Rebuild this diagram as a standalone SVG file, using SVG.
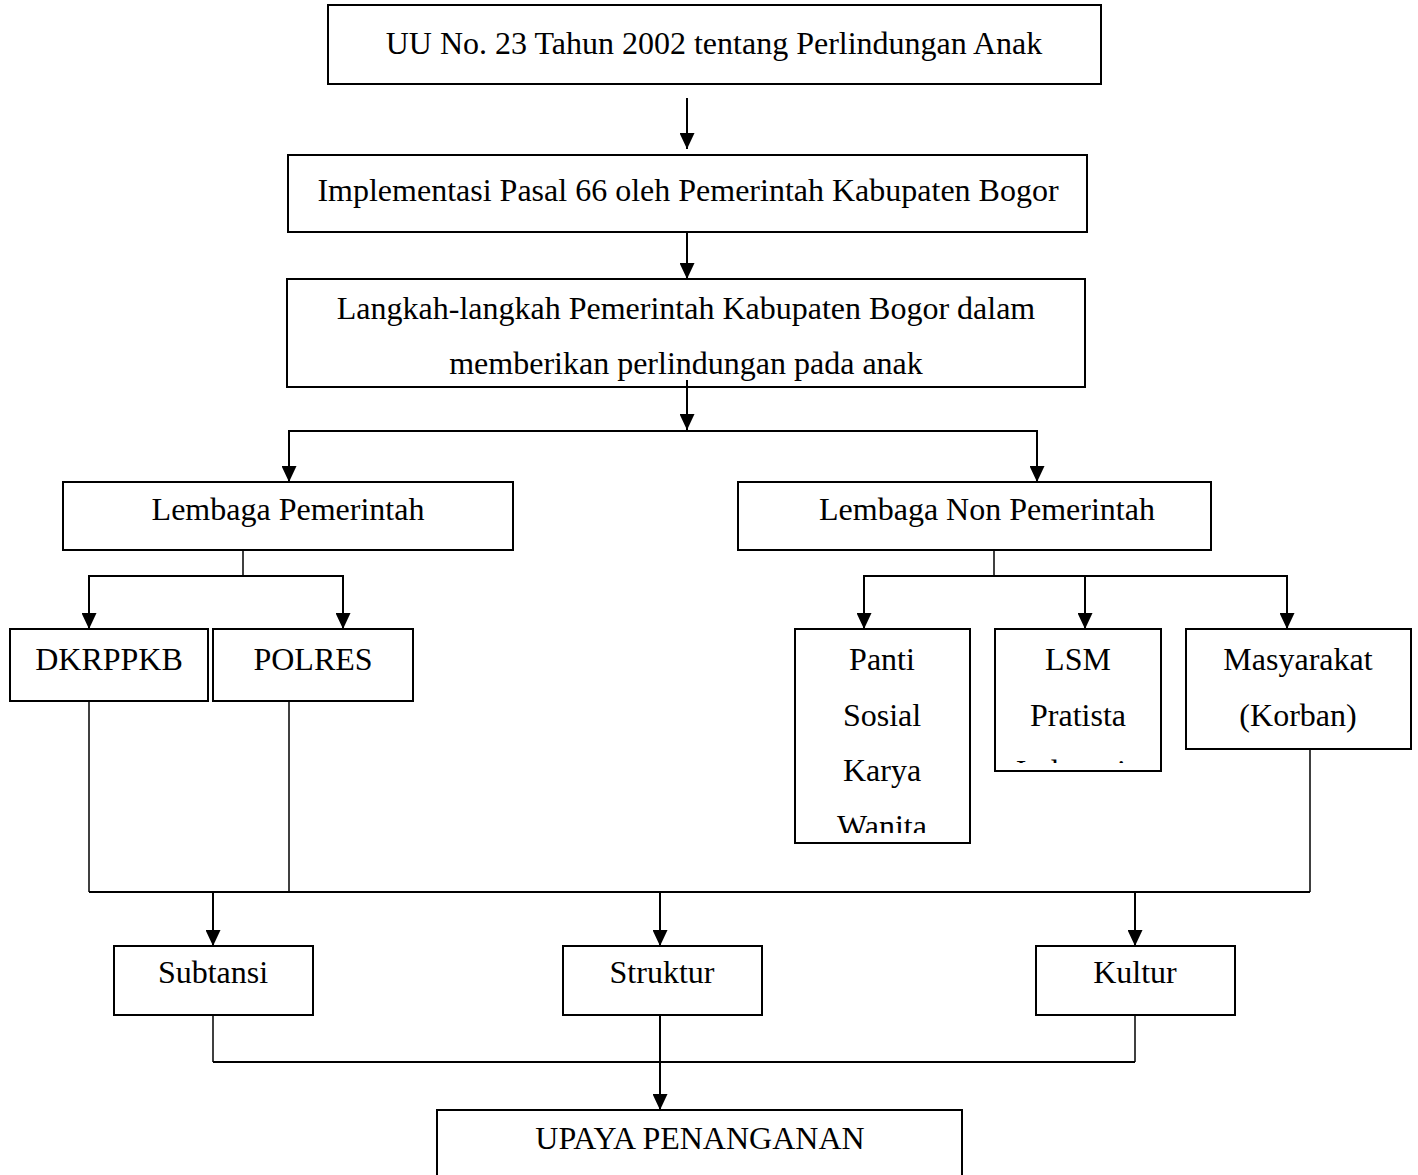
<svg xmlns="http://www.w3.org/2000/svg" width="1418" height="1175" viewBox="0 0 1418 1175">
  <style>
    .box { fill: #ffffff; stroke: #000000; stroke-width: 2; }
    .lbl { font-family: "Liberation Serif", "Times New Roman", serif; font-size: 32px; fill: #000000; text-anchor: middle; }
    .wire { fill: none; stroke: #000000; stroke-width: 2; }
    .thin { fill: none; stroke: #000000; stroke-width: 1.5; }
  </style>
  <defs>
    <!-- filled arrowhead, tip at the end of the line -->
    <marker id="arrow" markerUnits="userSpaceOnUse" markerWidth="16" markerHeight="15" refX="16" refY="7.5" viewBox="0 0 16 15" orient="auto">
      <path d="M0,0 L16,7.5 L0,15 z" fill="#000000"/>
    </marker>
    <clipPath id="clip-panti"><rect x="795" y="629" width="175" height="204"/></clipPath>
    <clipPath id="clip-lsm"><rect x="995" y="629" width="166" height="134"/></clipPath>
  </defs>

  <rect width="1418" height="1175" fill="#ffffff"/>

  <!-- connectors -->
  <g id="connectors">
    <line class="wire" x1="687" y1="98" x2="687" y2="149" marker-end="url(#arrow)"/>
    <line class="wire" x1="687" y1="232" x2="687" y2="279" marker-end="url(#arrow)"/>
    <line class="wire" x1="687" y1="380" x2="687" y2="430" marker-end="url(#arrow)"/>
    <polyline class="wire" points="289,431 1037,431"/>
    <line class="wire" x1="289" y1="430" x2="289" y2="482" marker-end="url(#arrow)"/>
    <line class="wire" x1="1037" y1="430" x2="1037" y2="482" marker-end="url(#arrow)"/>

    <line class="thin" x1="243" y1="550" x2="243" y2="576"/>
    <line class="wire" x1="89" y1="576" x2="343" y2="576"/>
    <line class="wire" x1="89" y1="575" x2="89" y2="629" marker-end="url(#arrow)"/>
    <line class="wire" x1="343" y1="575" x2="343" y2="629" marker-end="url(#arrow)"/>

    <line class="thin" x1="994" y1="550" x2="994" y2="576"/>
    <line class="wire" x1="864" y1="576" x2="1287" y2="576"/>
    <line class="wire" x1="864" y1="575" x2="864" y2="629" marker-end="url(#arrow)"/>
    <line class="wire" x1="1085" y1="575" x2="1085" y2="629" marker-end="url(#arrow)"/>
    <line class="wire" x1="1287" y1="575" x2="1287" y2="629" marker-end="url(#arrow)"/>

    <line class="thin" x1="89" y1="701" x2="89" y2="892"/>
    <line class="thin" x1="289" y1="701" x2="289" y2="892"/>
    <line class="thin" x1="1310" y1="749" x2="1310" y2="892"/>
    <line class="wire" x1="89" y1="892" x2="1310" y2="892" stroke-width="2.5"/>
    <line class="wire" x1="213" y1="892" x2="213" y2="946" marker-end="url(#arrow)"/>
    <line class="wire" x1="660" y1="892" x2="660" y2="946" marker-end="url(#arrow)"/>
    <line class="wire" x1="1135" y1="892" x2="1135" y2="946" marker-end="url(#arrow)"/>

    <line class="thin" x1="213" y1="1015" x2="213" y2="1062"/>
    <line class="thin" x1="1135" y1="1015" x2="1135" y2="1062"/>
    <line class="wire" x1="213" y1="1062" x2="1135" y2="1062"/>
    <line class="wire" x1="660" y1="1015" x2="660" y2="1110" marker-end="url(#arrow)"/>
  </g>

  <!-- nodes -->
  <g id="uu">
    <rect class="box" x="328" y="5" width="773" height="79"/>
    <text class="lbl" x="714" y="54">UU No. 23 Tahun 2002 tentang Perlindungan Anak</text>
  </g>
  <g id="implementasi">
    <rect class="box" x="288" y="155" width="799" height="77"/>
    <text class="lbl" x="688" y="201">Implementasi Pasal 66 oleh Pemerintah Kabupaten Bogor</text>
  </g>
  <g id="langkah">
    <rect class="box" x="287" y="279" width="798" height="108"/>
    <text class="lbl" x="686" y="319">Langkah-langkah Pemerintah Kabupaten Bogor dalam</text>
    <text class="lbl" x="686" y="374">memberikan perlindungan pada anak</text>
    <line class="wire" x1="687" y1="380" x2="687" y2="387"/>
  </g>
  <g id="lembaga-pemerintah">
    <rect class="box" x="63" y="482" width="450" height="68"/>
    <text class="lbl" x="288" y="520">Lembaga Pemerintah</text>
  </g>
  <g id="lembaga-non-pemerintah">
    <rect class="box" x="738" y="482" width="473" height="68"/>
    <text class="lbl" x="987" y="520">Lembaga Non Pemerintah</text>
  </g>
  <g id="dkrppkb">
    <rect class="box" x="10" y="629" width="198" height="72"/>
    <text class="lbl" x="109" y="670">DKRPPKB</text>
  </g>
  <g id="polres">
    <rect class="box" x="213" y="629" width="200" height="72"/>
    <text class="lbl" x="313" y="670">POLRES</text>
  </g>
  <g id="panti">
    <rect class="box" x="795" y="629" width="175" height="214"/>
    <g clip-path="url(#clip-panti)">
      <text class="lbl" x="882" y="670">Panti</text>
      <text class="lbl" x="882" y="726">Sosial</text>
      <text class="lbl" x="882" y="781">Karya</text>
      <text class="lbl" x="882" y="837">Wanita</text>
    </g>
  </g>
  <g id="lsm">
    <rect class="box" x="995" y="629" width="166" height="142"/>
    <g clip-path="url(#clip-lsm)">
      <text class="lbl" x="1078" y="670">LSM</text>
      <text class="lbl" x="1078" y="726">Pratista</text>
      <text class="lbl" x="1078" y="782">Indonesia</text>
    </g>
  </g>
  <g id="masyarakat">
    <rect class="box" x="1186" y="629" width="225" height="120"/>
    <text class="lbl" x="1298" y="670">Masyarakat</text>
    <text class="lbl" x="1298" y="726">(Korban)</text>
  </g>
  <g id="subtansi">
    <rect class="box" x="114" y="946" width="199" height="69"/>
    <text class="lbl" x="213" y="983">Subtansi</text>
  </g>
  <g id="struktur">
    <rect class="box" x="563" y="946" width="199" height="69"/>
    <text class="lbl" x="662" y="983">Struktur</text>
  </g>
  <g id="kultur">
    <rect class="box" x="1036" y="946" width="199" height="69"/>
    <text class="lbl" x="1135" y="983">Kultur</text>
  </g>
  <g id="upaya">
    <rect class="box" x="437" y="1110" width="525" height="80"/>
    <text class="lbl" x="700" y="1149">UPAYA PENANGANAN</text>
  </g>
</svg>
